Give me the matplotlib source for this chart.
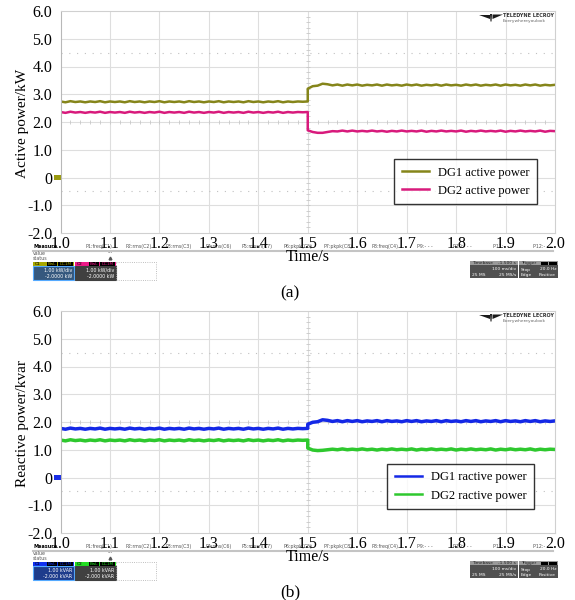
import matplotlib.pyplot as plt
import numpy as np
from matplotlib.patches import Rectangle, Polygon

plt.rcParams['font.family'] = ['Liberation Serif', 'DejaVu Serif']

# time base: 0.01 s samples before and after the load step at 1.5 s
t_pre = np.linspace(1.0, 1.5, 51)
t_post = np.linspace(1.5, 2.0, 51)

# (a) active power, kW
dg1_p_pre = [2.74, 2.71, 2.75, 2.72, 2.74, 2.71, 2.74, 2.72, 2.75, 2.71,
             2.74, 2.72, 2.74, 2.71, 2.75, 2.72, 2.74, 2.71, 2.74, 2.72,
             2.75, 2.71, 2.74, 2.72, 2.74, 2.71, 2.75, 2.72, 2.74, 2.71,
             2.74, 2.72, 2.75, 2.71, 2.74, 2.72, 2.74, 2.71, 2.75, 2.72,
             2.74, 2.71, 2.74, 2.72, 2.75, 2.71, 2.74, 2.72, 2.74, 2.73, 2.74]
dg1_p_post = [3.20, 3.29, 3.31, 3.38, 3.36, 3.32, 3.35, 3.31, 3.35, 3.32,
              3.35, 3.31, 3.34, 3.32, 3.35, 3.31, 3.35, 3.32, 3.34, 3.31,
              3.35, 3.32, 3.35, 3.31, 3.34, 3.32, 3.35, 3.31, 3.35, 3.32,
              3.34, 3.31, 3.35, 3.32, 3.35, 3.31, 3.34, 3.32, 3.35, 3.31,
              3.35, 3.32, 3.34, 3.31, 3.35, 3.32, 3.35, 3.31, 3.34, 3.32, 3.34]
dg2_p_pre = [2.36, 2.33, 2.37, 2.34, 2.36, 2.33, 2.36, 2.34, 2.37, 2.33,
             2.36, 2.34, 2.36, 2.33, 2.37, 2.34, 2.36, 2.33, 2.36, 2.34,
             2.37, 2.33, 2.36, 2.34, 2.36, 2.33, 2.37, 2.34, 2.36, 2.33,
             2.36, 2.34, 2.37, 2.33, 2.36, 2.34, 2.36, 2.33, 2.37, 2.34,
             2.36, 2.33, 2.36, 2.34, 2.37, 2.33, 2.36, 2.34, 2.36, 2.35, 2.36]
dg2_p_post = [1.70, 1.64, 1.61, 1.61, 1.64, 1.67, 1.66, 1.69, 1.66, 1.69,
              1.66, 1.68, 1.66, 1.69, 1.66, 1.68, 1.65, 1.68, 1.66, 1.69,
              1.66, 1.68, 1.66, 1.69, 1.65, 1.68, 1.66, 1.69, 1.66, 1.68,
              1.66, 1.69, 1.65, 1.68, 1.66, 1.69, 1.66, 1.68, 1.66, 1.69,
              1.65, 1.68, 1.66, 1.69, 1.66, 1.68, 1.66, 1.69, 1.65, 1.68, 1.67]

# (b) reactive power, kvar
dg1_q_pre = [1.77, 1.74, 1.78, 1.75, 1.77, 1.74, 1.77, 1.75, 1.78, 1.74,
             1.77, 1.75, 1.77, 1.74, 1.78, 1.75, 1.77, 1.74, 1.77, 1.75,
             1.78, 1.74, 1.77, 1.75, 1.77, 1.74, 1.78, 1.75, 1.77, 1.74,
             1.77, 1.75, 1.78, 1.74, 1.77, 1.75, 1.77, 1.74, 1.78, 1.75,
             1.77, 1.74, 1.77, 1.75, 1.78, 1.74, 1.77, 1.75, 1.77, 1.76, 1.77]
dg1_q_post = [1.92, 1.99, 2.01, 2.08, 2.06, 2.02, 2.05, 2.01, 2.05, 2.02,
              2.05, 2.01, 2.04, 2.02, 2.05, 2.01, 2.05, 2.02, 2.04, 2.01,
              2.05, 2.02, 2.05, 2.01, 2.04, 2.02, 2.05, 2.01, 2.05, 2.02,
              2.04, 2.01, 2.05, 2.02, 2.05, 2.01, 2.04, 2.02, 2.05, 2.01,
              2.05, 2.02, 2.04, 2.01, 2.05, 2.02, 2.05, 2.01, 2.04, 2.02, 2.04]
dg2_q_pre = [1.35, 1.32, 1.36, 1.33, 1.35, 1.32, 1.35, 1.33, 1.36, 1.32,
             1.35, 1.33, 1.35, 1.32, 1.36, 1.33, 1.35, 1.32, 1.35, 1.33,
             1.36, 1.32, 1.35, 1.33, 1.35, 1.32, 1.36, 1.33, 1.35, 1.32,
             1.35, 1.33, 1.36, 1.32, 1.35, 1.33, 1.35, 1.32, 1.36, 1.33,
             1.35, 1.32, 1.35, 1.33, 1.36, 1.32, 1.35, 1.33, 1.35, 1.34, 1.35]
dg2_q_post = [1.06, 0.99, 0.97, 0.98, 1.00, 1.02, 1.00, 1.03, 1.00, 1.02,
              1.00, 1.03, 1.00, 1.02, 0.99, 1.02, 1.00, 1.03, 1.00, 1.02,
              1.00, 1.03, 0.99, 1.02, 1.00, 1.03, 1.00, 1.02, 1.00, 1.03,
              0.99, 1.02, 1.00, 1.03, 1.00, 1.02, 1.00, 1.03, 0.99, 1.02,
              1.00, 1.03, 1.00, 1.02, 1.00, 1.03, 0.99, 1.02, 1.00, 1.02, 1.01]

x_ticks = [1.0, 1.1, 1.2, 1.3, 1.4, 1.5, 1.6, 1.7, 1.8, 1.9, 2.0]
x_labels = ['1.0', '1.1', '1.2', '1.3', '1.4', '1.5', '1.6', '1.7', '1.8', '1.9', '2.0']
y_ticks = [-2, -1, 0, 1, 2, 3, 4, 5, 6]
y_labels = ['-2.0', '-1.0', '0', '1.0', '2.0', '3.0', '4.0', '5.0', '6.0']

fig = plt.figure(figsize=(5.75, 6.0), dpi=100)
# overlay in pixel units for the scope screen furniture
ov = fig.add_axes([0, 0, 1, 1], zorder=0)
ov.set_xlim(0, 575)
ov.set_ylim(600, 0)
ov.axis('off')

sans = 'DejaVu Sans'


def scope_ui(dy, hdr1, body1, hdr2, txt1, txt2):
    # measurement strip
    ov.plot([33, 553], [250.5 + dy, 250.5 + dy], color='#c4c4c4', lw=1.5)
    ov.text(33, 246 + dy, 'Measure', fontsize=3.6, family=sans, weight='bold', va='center')
    meas = [(85, 'P1:freq(C1)'), (125, 'P2:rms(C2)'), (166, 'P3:rms(C3)'), (206, 'P4:rms(C6)'),
            (242, 'P5:mean(C7)'), (283, 'P6:pkpk(C5)'), (323, 'P7:pkpk(C8)'), (372, 'P8:freq(C4)'),
            (417, 'P9:- - -'), (453, 'P10:- - -'), (493, 'P11:- - -'), (533, 'P12:- - -')]
    for mx, s in meas:
        ov.text(mx, 246.5 + dy, s, fontsize=3.4, family=sans, color='#555555', va='center')
    ov.text(33, 253.5 + dy, 'value', fontsize=3.4, family=sans, color='#555555', va='center')
    ov.text(33, 258 + dy, 'status', fontsize=3.4, family=sans, color='#555555', va='center')
    ov.text(110, 253 + dy, '---', fontsize=3.4, family=sans, color='#555555', va='center', ha='center')
    ov.plot([110], [258 + dy], marker='^', ms=2, color='#555555')
    # channel boxes
    for x0, hdr, body, ch, lines, edge in [(33, hdr1, body1, 'C1', txt1, '#55aaff'),
                                          (75, hdr2, '#404040', 'C2', txt2, '#404040')]:
        ov.add_patch(Rectangle((x0, 261.5 + dy), 41, 4.5, facecolor=hdr, edgecolor='none'))
        ov.add_patch(Rectangle((x0, 266 + dy), 41, 13.5, facecolor=body, edgecolor=edge, lw=0.8))
        ov.text(x0 + 2, 263.8 + dy, ch, fontsize=3.2, family=sans, va='center', color='black')
        ov.add_patch(Rectangle((x0 + 14, 262 + dy), 10, 3.6, facecolor='black'))
        ov.add_patch(Rectangle((x0 + 25, 262 + dy), 15, 3.6, facecolor='black'))
        ov.text(x0 + 19, 263.8 + dy, 'BwL', fontsize=3.0, family=sans, va='center', ha='center', color=hdr)
        ov.text(x0 + 32.5, 263.8 + dy, 'DC1M', fontsize=3.0, family=sans, va='center', ha='center', color=hdr)
        ov.text(x0 + 39, 270 + dy, lines[0], fontsize=3.4, family=sans, va='center', ha='right', color='white')
        ov.text(x0 + 39, 276 + dy, lines[1], fontsize=3.4, family=sans, va='center', ha='right', color='white')
    ov.add_patch(Rectangle((116, 261.5 + dy), 40, 18, facecolor='none', edgecolor='#aaaaaa', lw=0.6, ls=':'))
    # timebase / trigger box
    ov.add_patch(Rectangle((470, 261 + dy), 48, 17, facecolor='#505050', edgecolor='none'))
    ov.add_patch(Rectangle((519, 261 + dy), 39, 17, facecolor='#505050', edgecolor='none'))
    ov.add_patch(Rectangle((470, 261 + dy), 48, 4, facecolor='#9a9a9a', edgecolor='none'))
    ov.add_patch(Rectangle((519, 261 + dy), 39, 4, facecolor='#9a9a9a', edgecolor='none'))
    ov.add_patch(Rectangle((541, 261.5 + dy), 7, 3.2, facecolor='black'))
    ov.add_patch(Rectangle((549, 261.5 + dy), 8, 3.2, facecolor='black'))
    tb = [(472, 263, 'Timebase', 'left'), (516, 263, '-1.500 s', 'right'),
          (516, 269.5, '100 ms/div', 'right'), (472, 275, '25 MS', 'left'), (516, 275, '25 MS/s', 'right'),
          (521, 263, 'Trigger', 'left'), (521, 269.5, 'Stop', 'left'), (556, 269.5, '20.0 Hz', 'right'),
          (521, 275, 'Edge', 'left'), (556, 275, 'Positive', 'right')]
    for tx, ty, s, ha in tb:
        ov.text(tx, ty + dy, s, fontsize=3.2, family=sans, va='center', ha=ha,
                color='#222222' if ty == 263 else 'white')


def px(x, y):
    # pixel position inside the screen -> axes fraction
    return [(x - 60.5) / 494.5, (233 - y) / 222]


def panel(bottom, pre, post, colors, names, lw, ylabel, leg_anchor, tag, tag_y, marker_col):
    ax = fig.add_axes([60.5 / 575, bottom, 494.5 / 575, 222 / 600], zorder=1)
    ax.patch.set_alpha(0)
    ax.set_xlim(1.0, 2.0)
    ax.set_ylim(-2, 6)
    for s in ax.spines.values():
        s.set_color('#d0d0d0')
        s.set_linewidth(0.8)
    ax.spines['left'].set_color('#b8b8b8')
    for xv in x_ticks[1:-1]:
        ax.axvline(xv, color='#dedede', lw=0.8, zorder=0)
    for yv in y_ticks[1:-1]:
        ax.axhline(yv, color='#dedede', lw=0.8, zorder=0)
    for yv in (4.5, -0.5):
        ax.axhline(yv, color='#c0c0c0', lw=0.8, ls=(0, (1, 6)), zorder=0)
    # centre crosshair ticks
    ax.plot(np.arange(1.02, 2.0, 0.02), np.full(49, 2.0), ls='none', marker='|', ms=3,
            color='#c8c8c8', mew=0.6, zorder=0)
    ax.plot(np.full(39, 1.5), np.arange(-1.8, 5.9, 0.2), ls='none', marker='_', ms=3,
            color='#c8c8c8', mew=0.6, zorder=0)
    for p0, p1, c, n in zip(pre, post, colors, names):
        ax.plot(np.concatenate([t_pre, t_post]), np.concatenate([p0, p1]), color=c, lw=lw, label=n)
    ax.set_xticks(x_ticks)
    ax.set_xticklabels(x_labels)
    ax.set_yticks(y_ticks)
    ax.set_yticklabels(y_labels)
    ax.tick_params(length=0, labelsize=11.5)
    ax.tick_params(axis='x', pad=2)
    ax.tick_params(axis='y', pad=6)
    ax.set_ylabel(ylabel, fontsize=11, va='center')
    ax.yaxis.set_label_coords(-0.077, 0.495)
    ax.set_xlabel('Time/s', fontsize=11.5, va='center')
    ax.xaxis.set_label_coords(0.5, -0.108)
    leg = ax.legend(loc='upper right', bbox_to_anchor=leg_anchor, fontsize=9, frameon=True,
                    fancybox=False, edgecolor='black', handlelength=2.2, borderaxespad=0,
                    borderpad=0.6, labelspacing=0.5, handletextpad=0.7)
    leg.get_frame().set_linewidth(1.0)
    for h in leg.get_lines():
        h.set_linewidth(1.8)
    # Teledyne LeCroy badge
    ax.text(*px(503, 15.7), 'TELEDYNE LECROY', transform=ax.transAxes, fontsize=3.5,
            family=sans, weight='bold', color='#333333', va='center')
    ax.text(*px(503, 21), 'Everywhereyoulook', transform=ax.transAxes, fontsize=3.2,
            family=sans, color='#666666', va='center')
    for poly in ([px(479, 14.5), px(489.5, 14.5), px(489.5, 19)],
                 [px(492.5, 14.5), px(503, 14.5), px(492.5, 19)],
                 [px(490, 14), px(492, 14), px(491.5, 21.5), px(490.5, 21.5)]):
        ax.add_patch(Polygon(poly, closed=True, transform=ax.transAxes,
                             facecolor='#1a1a1a', edgecolor='none'))
    # channel offset marker
    top = 600 - (bottom * 600 + 222)
    ov.add_patch(Rectangle((54, top + 163.5), 6.5, 5, facecolor=marker_col, edgecolor='none'))
    fig.text(290 / 575, 1 - tag_y / 600, tag, fontsize=12.5, ha='center', va='center')
    return ax


panel(1 - 233 / 600, [dg1_p_pre, dg2_p_pre], [dg1_p_post, dg2_p_post],
      ['#85851a', '#d81a7c'], ['DG1 active power', 'DG2 active power'], 1.8,
      'Active power/kW', (0.9636, 0.333), '(a)', 293, '#9a9a10')
panel(1 - 533 / 600, [dg1_q_pre, dg2_q_pre], [dg1_q_post, dg2_q_post],
      ['#1428e6', '#2ec82e'], ['DG1 ractive power', 'DG2 ractive power'], 2.5,
      'Reactive power/kvar', (0.9575, 0.311), '(b)', 592, '#1a2ee6')

scope_ui(0, '#a8a800', '#35587e', '#ee1888', ('1.00 kW/div', '-2.0000 kW'), ('1.00 kW/div', '-2.0000 kW'))
scope_ui(300, '#1030f0', '#1e3c8c', '#22dd22', ('1.00 kVAR', '-2.000 kVAR'), ('1.00 kVAR', '-2.000 kVAR'))

fig.savefig('out.png', dpi=100)
